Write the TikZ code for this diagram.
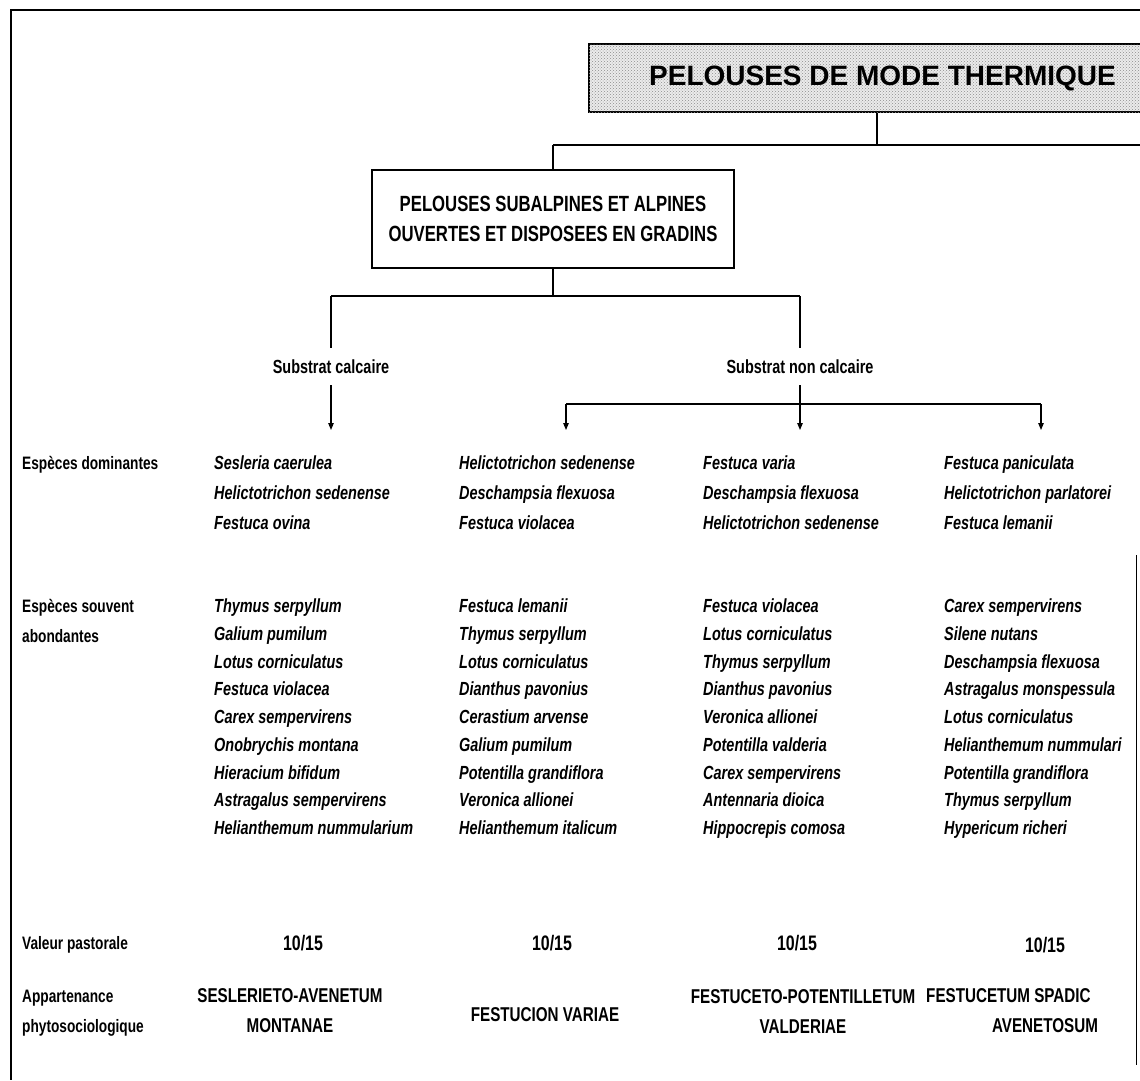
\documentclass[tikz,border=0pt]{standalone}
\usepackage{fontspec}
\setmainfont{Liberation Sans}
\newfontfamily\cnd[FakeStretch=0.76]{Liberation Sans}
\usetikzlibrary{arrows.meta,patterns}
\begin{document}
\begin{tikzpicture}[x=1pt,y=-1pt,
  frame/.style={line width=2.2pt},
  link/.style={line width=1.1pt},
  arr/.style={link,-{Triangle[length=7pt,width=5.5pt]}},
  topbox/.style={draw,line width=2.2pt,fill=black!8,
    postaction={pattern=crosshatch dots,pattern color=black!45},
    minimum width=587pt,minimum height=68pt,inner sep=0pt,
    font=\bfseries\fontsize{28}{30}\selectfont},
  midbox/.style={draw,line width=2.2pt,minimum width=362pt,minimum height=98pt,inner sep=0pt,align=center,
    font=\cnd\bfseries\fontsize{22}{30}\selectfont},
  sub/.style={inner sep=0pt,font=\cnd\bfseries\fontsize{19}{20}\selectfont},
  rowlab/.style={anchor=base west,inner sep=0pt,font=\cnd\bfseries\fontsize{18}{20}\selectfont},
  species/.style={anchor=base west,inner sep=0pt,font=\cnd\bfseries\itshape\fontsize{19}{20}\selectfont},
  value/.style={anchor=base,inner sep=0pt,font=\cnd\bfseries\fontsize{21}{22}\selectfont},
  assoc/.style={inner sep=0pt,align=center,font=\cnd\bfseries\fontsize{20}{30}\selectfont}]
\useasboundingbox (0,0) rectangle (1140,1080);

% outer frame
\coordinate (fr1) at (1140,10);
\coordinate (fr2) at (11,10);
\coordinate (fr3) at (11,1080);
\draw[frame] (fr1) -- (fr2) -- (fr3);
\coordinate (rs1) at (1136,555);
\coordinate (rs2) at (1136,1065);
\draw[line width=0.8pt] (rs1) -- (rs2);

% hierarchy
\node[topbox] (top) at (882.5,78) {PELOUSES DE MODE THERMIQUE};
\coordinate (j1) at (877,145);
\coordinate (j1w) at (553,145);
\coordinate (j1e) at (1140,145);
\draw[link] (j1 |- top.south) -- (j1);
\draw[link] (j1w) -- (j1e);

\node[midbox] (mid) at (553,219) {PELOUSES SUBALPINES ET ALPINES\\OUVERTES ET DISPOSEES EN GRADINS};
\draw[link] (j1w) -- (mid.north);

\coordinate (j2) at (553,296);
\coordinate (j2w) at (331,296);
\coordinate (j2e) at (800,296);
\draw[link] (mid.south) -- (j2);
\draw[link] (j2w) -- (j2e);

\node[sub] (calc) at (331,367) {Substrat calcaire};
\node[sub] (ncalc) at (800,367) {Substrat non calcaire};
\draw[link,shorten >=12pt] (j2w) -- (calc.north);
\draw[link,shorten >=12pt] (j2e) -- (ncalc.north);

\coordinate (a1) at (331,430);
\draw[arr,shorten <=11pt] (calc.south) -- (a1);

\coordinate (j3) at (800,404);
\coordinate (j3w) at (566,404);
\coordinate (j3e) at (1041,404);
\coordinate (a2) at (566,430);
\coordinate (a3) at (800,430);
\coordinate (a4) at (1041,430);
\draw[link,shorten <=11pt] (ncalc.south) -- (j3);
\draw[link] (j3w) -- (j3e);
\draw[arr] (j3w) -- (a2);
\draw[arr] (j3) -- (a3);
\draw[arr] (j3e) -- (a4);

% row headings
\node[rowlab] (rd) at (22,469.5) {Espèces dominantes};
\node[rowlab] (ra1) at (22,612.5) {Espèces souvent};
\node[rowlab] (ra2) at (22,642.5) {abondantes};
\node[rowlab] (rv) at (22,949) {Valeur pastorale};
\node[rowlab] (rp1) at (22,1002) {Appartenance};
\node[rowlab] (rp2) at (22,1032) {phytosociologique};

% dominant species
\foreach \t [count=\i] in {Sesleria caerulea,Helictotrichon sedenense,Festuca ovina}
  \node[species] (d1-\i) at (214,{469.5+(\i-1)*30}) {\t};
\foreach \t [count=\i] in {Helictotrichon sedenense,Deschampsia flexuosa,Festuca violacea}
  \node[species] (d2-\i) at (459,{469.5+(\i-1)*30}) {\t};
\foreach \t [count=\i] in {Festuca varia,Deschampsia flexuosa,Helictotrichon sedenense}
  \node[species] (d3-\i) at (703,{469.5+(\i-1)*30}) {\t};
\foreach \t [count=\i] in {Festuca paniculata,Helictotrichon parlatorei,Festuca lemanii}
  \node[species] (d4-\i) at (944,{469.5+(\i-1)*30}) {\t};

% frequent species
\foreach \t [count=\i] in {Thymus serpyllum,Galium pumilum,Lotus corniculatus,Festuca violacea,
    Carex sempervirens,Onobrychis montana,Hieracium bifidum,Astragalus sempervirens,Helianthemum nummularium}
  \node[species] (f1-\i) at (214,{612.5+(\i-1)*27.75}) {\t};
\foreach \t [count=\i] in {Festuca lemanii,Thymus serpyllum,Lotus corniculatus,Dianthus pavonius,
    Cerastium arvense,Galium pumilum,Potentilla grandiflora,Veronica allionei,Helianthemum italicum}
  \node[species] (f2-\i) at (459,{612.5+(\i-1)*27.75}) {\t};
\foreach \t [count=\i] in {Festuca violacea,Lotus corniculatus,Thymus serpyllum,Dianthus pavonius,
    Veronica allionei,Potentilla valderia,Carex sempervirens,Antennaria dioica,Hippocrepis comosa}
  \node[species] (f3-\i) at (703,{612.5+(\i-1)*27.75}) {\t};
\foreach \t [count=\i] in {Carex sempervirens,Silene nutans,Deschampsia flexuosa,Astragalus monspessula,
    Lotus corniculatus,Helianthemum nummulari,Potentilla grandiflora,Thymus serpyllum,Hypericum richeri}
  \node[species] (f4-\i) at (944,{612.5+(\i-1)*27.75}) {\t};

% pastoral value
\node[value] (v1) at (303,950) {10/15};
\node[value] (v2) at (552,950) {10/15};
\node[value] (v3) at (797,950) {10/15};
\node[value] (v4) at (1045,952) {10/15};

% associations
\node[assoc] (p1) at (290,1011) {SESLERIETO-AVENETUM\\MONTANAE};
\node[assoc] (p2) at (545,1015) {FESTUCION VARIAE};
\node[assoc] (p3) at (803,1011) {FESTUCETO-POTENTILLETUM\\VALDERIAE};
\node[assoc,anchor=base west] (p4a) at (926,1002) {FESTUCETUM SPADIC};
\node[assoc,anchor=base] (p4b) at (1045,1032) {AVENETOSUM};
\end{tikzpicture}
\end{document}
